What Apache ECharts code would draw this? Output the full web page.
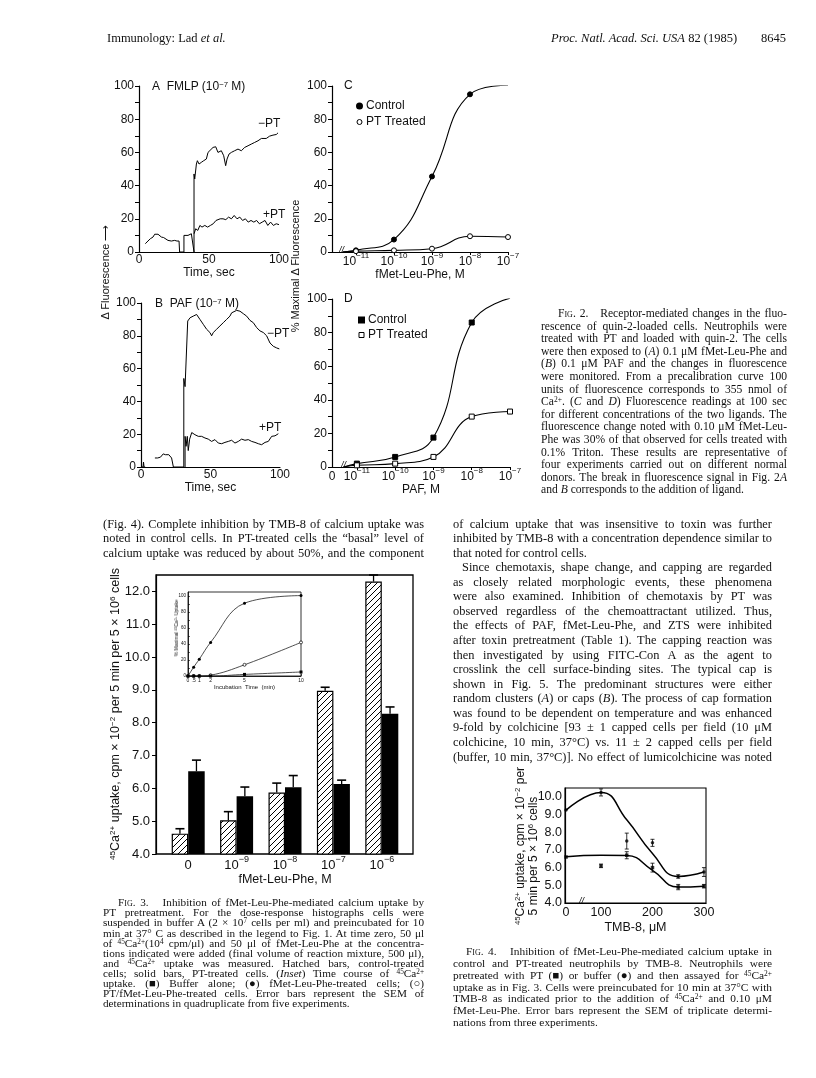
<!DOCTYPE html>
<html>
<head>
<meta charset="utf-8">
<script src="https://cdn.jsdelivr.net/npm/echarts@6/dist/echarts.min.js"></script>
<style>
html, body { margin: 0; padding: 0; background: #fff; }
#page { position: relative; width: 816px; height: 1078px; overflow: hidden; background: #fff; }
#chart { position: absolute; left: 0; top: 0; width: 816px; height: 1078px; }
.t { position: absolute; white-space: nowrap; font-family: "Liberation Serif", "Times New Roman", serif; color: #111; }
.s { position: absolute; white-space: nowrap; font-family: "Liberation Sans", Arial, sans-serif; color: #111; }
.rot { transform: translate(-50%, -50%) rotate(-90deg); }
sup { font-size: 0.65em; vertical-align: 0.45em; line-height: 0; }
.sc { font-variant: small-caps; }
</style>
</head>
<body>
<div id="page"><div id="chart"></div></div>
<script>
const TXT = "#111";
const SANS = "Liberation Sans, Arial, sans-serif";

// Fig. 2A / 2B traces: [time (sec), delta fluorescence]
const fmlpMinusPt = [[4.5,5],[6.4,6.6],[8.1,8],[10,9],[11.2,10.7],[12.4,9.7],[13.6,10.7],[14.8,9.7],[16,9],[17.6,8.7],[18.8,9.5],[20.7,7],[21.9,7.8],[23.1,6.6],[24.3,7.4],[25.5,7],[27.1,6.6],[28.6,6.6],[29,0],[32.1,0],[32.1,10],[33.3,10.7],[35,10],[36.2,11],[37.4,11],[38.6,12],[39.3,0],[39.3,47],[39.8,44],[41,53],[41.7,55],[42.9,53],[44.5,54],[46.2,55],[48.1,56],[49.3,60],[50.5,61],[52.9,63],[54.8,63.4],[56.4,60],[58.8,61],[60.5,58],[61.9,52],[62.9,56],[64.3,59],[66,60],[68.3,61],[70.7,62],[73.1,61],[75.5,63],[77.9,64],[80.2,65],[82.6,66],[85,67],[87.4,68.4],[88.6,69.4],[90.9,68.4],[93.3,69.8],[95.7,70.4],[98.1,70.8],[99.3,71.8]];
const fmlpPlusPt = [[39.3,11],[40.5,14],[42,13],[43.5,16],[45,15],[47,16],[49,15],[51,16],[53,17],[55,19],[56,18],[58,20],[60,20],[62,19.5],[64,21],[66,20],[68,22],[70,20],[72,21],[74,19],[76,20],[78,18],[80,19],[82,18],[84,19],[86,17],[88,18],[90,19],[92,16],[94,18],[96,16],[98,17],[100,16.5]];
const pafMinusPt = [[0,0],[1.5,0],[1.8,3],[2.2,0],[3,0],[5,null],[10,5.5],[12,5.5],[14,6],[15,7],[16,8],[17.5,7.5],[18.5,8],[20,7.5],[21,6.5],[22,5.5],[23.3,5.5],[23.3,0],[30.8,0],[30.8,54],[31.7,49],[33.6,89],[35.3,91],[37.6,92],[40,93],[41.2,92],[42.4,90],[44.8,87],[47.2,84],[49.6,82],[50.8,80],[52,82],[54.4,84],[56.8,86],[59.2,88],[61.6,90],[64,92],[65.2,94],[66.4,93],[68.8,95.5],[71.2,95],[73.6,93.5],[76,92],[78.4,89.4],[80.8,88],[83.2,85],[85.6,83],[88,82],[90.4,80],[92.8,75.6],[95.2,73.6],[97.6,72.6],[99.5,72]];
const pafPlusPt = [[31.7,0],[31.7,18.7],[32.4,12.6],[33.3,18.7],[34,10],[35,17],[36.5,21],[38.8,19.7],[41.2,18.7],[43.6,18.7],[46,17.7],[48.4,17],[50.8,15.6],[53.2,16.7],[55.6,14.6],[58,14.2],[60.4,15],[62.8,15.6],[65.2,16.3],[67.6,14.6],[70,15.6],[72.4,17],[74.8,16.3],[77.2,16.7],[79.6,15.6],[82,15],[84.4,14.2],[86.8,13.6],[89.2,15],[91.6,15.6],[94,18.7],[96.4,19],[98.8,20.3]];

// Fig. 2C / 2D dose-response, x = log10 concentration
const doseExponents = [-11, -10, -9, -8, -7];
const fmlpControl = [1, 7.5, 45.5, 95, 100.5];
const fmlpPtTreated = [0.5, 1, 2, 9.5, 9];
const pafControl = [2, 6, 17.5, 86, 100.5];
const pafPtTreated = [1, 2, 6, 30, 33];
const curveStart = -11.35; // curves leave the axis break at 0

// Fig. 3 bars
const fig3Doses = ["0", "-9", "-8", "-7", "-6"];
const controlUptake = [4.62, 5.03, 5.87, 8.97, 12.3];
const controlSem = [0.15, 0.26, 0.29, 0.11, 0.2];
const ptUptake = [6.52, 5.76, 6.03, 6.13, 8.27];
const ptSem = [0.34, 0.28, 0.36, 0.12, 0.21];
const fig3Ticks = [4, 5, 6, 7, 8, 9, 10, 11, 12];

// Fig. 3 inset
const insetTimes = [0, 0.5, 1, 2, 5, 10];
const insetFmlp = [0, 11, 21, 42, 91, 100.5];
const insetPtFmlp = [0, 0, 0, 1, 14, 42];
const insetBuffer = [0, 0, 0, 0, 2, 5];
const insetPctTicks = [0, 20, 40, 60, 80, 100];

// Fig. 4
const tmbDoses = [0, 100, 150, 200, 250, 300];
const bufferUptake = [9.25, 10.25, 7.5, 7.4, 5.5, 5.75];
const bufferSem = [0, 0.2, 0.45, 0.2, 0.1, 0.25];
const ptTmbUptake = [6.6, 6.1, 6.7, 6.0, 4.9, 4.95];
const ptTmbSem = [0, 0.1, 0.2, 0.25, 0.15, 0.1];
const bufferFit = [9.25, 10.25, 8.7, 6.8, 5.5, 5.75];
const ptFit = [6.62, 6.7, 6.68, 5.85, 4.9, 4.95];
const tmbTicks = [0, 100, 200, 300];
const fig4Ticks = [4, 5, 6, 7, 8, 9, 10];
const TMB_ZERO_POS = 32; // 0 sits just before the axis break
const tmbPos = (d) => (d === 0 ? TMB_ZERO_POS : d);

// ---------- helpers ----------
function richSup(size) {
  return {
    b: { fontSize: size, lineHeight: size + 4, verticalAlign: "bottom", fontFamily: SANS, color: TXT },
    s: { fontSize: Math.round(size * 0.68), lineHeight: 6, verticalAlign: "top", fontFamily: SANS, color: TXT },
  };
}
function powLabel(exp) {
  return "{b|10}{s|" + String(exp).replace("-", "\u2212") + "}";
}
const blackLine = { show: true, onZero: false, lineStyle: { color: "#000", width: 1.2 } };
function labelStyle(size, margin) {
  return { fontSize: size, fontFamily: SANS, color: TXT, margin };
}

function hatchPattern() {
  const c = document.createElement("canvas");
  c.width = 6;
  c.height = 6;
  const g = c.getContext("2d");
  g.fillStyle = "#fff";
  g.fillRect(0, 0, 6, 6);
  g.strokeStyle = "#000";
  g.lineWidth = 1;
  g.beginPath();
  g.moveTo(0, 6); g.lineTo(6, 0);
  g.moveTo(-1, 1); g.lineTo(1, -1);
  g.moveTo(5, 7); g.lineTo(7, 5);
  g.stroke();
  return c;
}

const BAR_W = 16.5;

function fig3ErrorSeries(values, sems, offset) {
  return {
    type: "custom",
    xAxisIndex: 5,
    yAxisIndex: 5,
    z: 4,
    silent: true,
    data: values.map((v, i) => [i, v, v + sems[i]]),
    renderItem: (params, api) => {
      const base = api.coord([api.value(0), api.value(1)]);
      const top = api.coord([api.value(0), api.value(2)]);
      const x = base[0] + offset;
      return {
        type: "group",
        children: [
          { type: "line", shape: { x1: x, y1: base[1], x2: x, y2: top[1] }, style: { stroke: "#000", lineWidth: 1.3 } },
          { type: "line", shape: { x1: x - 4.5, y1: top[1], x2: x + 4.5, y2: top[1] }, style: { stroke: "#000", lineWidth: 1.6 } },
        ],
      };
    },
  };
}

function fig4ErrorSeries(values, sems) {
  return {
    type: "custom",
    xAxisIndex: 7,
    yAxisIndex: 7,
    silent: true,
    data: tmbDoses.map((d, i) => [tmbPos(d), values[i] - sems[i], values[i] + sems[i]]).filter((r) => r[2] > r[1]),
    renderItem: (params, api) => {
      const lo = api.coord([api.value(0), api.value(1)]);
      const hi = api.coord([api.value(0), api.value(2)]);
      const x = lo[0];
      return {
        type: "group",
        children: [
          { type: "line", shape: { x1: x, y1: lo[1], x2: x, y2: hi[1] }, style: { stroke: "#000", lineWidth: 0.8 } },
          { type: "line", shape: { x1: x - 2, y1: lo[1], x2: x + 2, y2: lo[1] }, style: { stroke: "#000", lineWidth: 0.8 } },
          { type: "line", shape: { x1: x - 2, y1: hi[1], x2: x + 2, y2: hi[1] }, style: { stroke: "#000", lineWidth: 0.8 } },
        ],
      };
    },
  };
}

function traceSeries(data, idx) {
  return {
    type: "line", xAxisIndex: idx, yAxisIndex: idx, data, symbol: "none",
    lineStyle: { color: "#000", width: 1 }, connectNulls: false, silent: true,
  };
}

function doseSeries(name, values, idx, symbol, filled) {
  return {
    type: "line", name, xAxisIndex: idx, yAxisIndex: idx, smooth: 0.45,
    data: [{ value: [curveStart, 0], symbol: "none" }].concat(doseExponents.map((e, i) => [e, values[i]])),
    symbol, symbolSize: 5,
    lineStyle: { color: "#000", width: 1.1 },
    itemStyle: { color: filled ? "#000" : "#fff", borderColor: "#000", borderWidth: 1 },
    silent: true,
  };
}

function timeAxes(idx) {
  return {
    x: {
      gridIndex: idx, type: "value", min: 0, max: 100, interval: 50,
      axisLine: blackLine, axisTick: { show: false }, splitLine: { show: false },
      axisLabel: labelStyle(12, 2),
      name: "Time, sec", nameLocation: "middle", nameGap: 15,
      nameTextStyle: { fontSize: 12, fontFamily: SANS, color: TXT },
    },
    y: {
      gridIndex: idx, type: "value", min: 0, max: 100, interval: 10,
      axisLine: blackLine, axisTick: { show: true, length: 4, lineStyle: { color: "#000" } }, splitLine: { show: false },
      axisLabel: Object.assign(labelStyle(12, 5), { formatter: (v) => (v % 20 === 0 ? v : "") }),
    },
  };
}

function doseAxes(idx, min, withZero) {
  const labelVals = withZero ? [min].concat(doseExponents) : doseExponents;
  return {
    x: {
      gridIndex: idx, type: "value", min, max: -7,
      axisLine: blackLine,
      axisTick: { show: true, length: 3, customValues: doseExponents, lineStyle: { color: "#000" } },
      splitLine: { show: false },
      axisLabel: {
        customValues: labelVals, margin: 0, rich: richSup(12),
        formatter: (v) => (v < -11.2 ? "{b|0}" : powLabel(Math.round(v))),
      },
      nameTextStyle: { fontSize: 12, fontFamily: SANS, color: TXT },
      nameLocation: "middle", nameGap: 15,
    },
    y: {
      gridIndex: idx, type: "value", min: 0, max: 100, interval: 10,
      axisLine: blackLine, axisTick: { show: true, length: 4, lineStyle: { color: "#000" } }, splitLine: { show: false },
      axisLabel: Object.assign(labelStyle(12, 5), { formatter: (v) => (v % 20 === 0 ? v : "") }),
    },
  };
}

const axA = timeAxes(0);
const axB = timeAxes(1);
const axC = doseAxes(2, -11.63, false);
axC.x.name = "fMet-Leu-Phe, M";
const axD = doseAxes(3, -11.65, true);
axD.x.name = "PAF, M";

const option = {
  animation: false,
  backgroundColor: "#fff",
  textStyle: { fontFamily: SANS, color: TXT },
  grid: [
    { left: 139, top: 86, width: 140, height: 166 },
    { left: 141, top: 303, width: 139, height: 164 },
    { left: 332, top: 86, width: 176, height: 166 },
    { left: 332, top: 299, width: 178, height: 168 },
    { left: 156, top: 575, width: 257, height: 279, show: true, borderColor: "#000", borderWidth: 1.3, backgroundColor: "transparent" },
    { left: 164, top: 575, width: 242, height: 279 },
    { left: 188, top: 592, width: 113, height: 84, show: true, borderColor: "#000", borderWidth: 0.8, backgroundColor: "#fff" },
    { left: 565, top: 788, width: 141, height: 115, show: true, borderColor: "#000", borderWidth: 1.1, backgroundColor: "transparent" },
  ],
  legend: [
    {
      left: 351, top: 95, orient: "vertical", itemWidth: 5, itemHeight: 5, itemGap: 4, selectedMode: false,
      textStyle: { fontSize: 12, fontFamily: SANS, color: TXT, padding: [0, 0, 0, -1] },
      data: [
        { name: "Control", icon: "circle", itemStyle: { color: "#000", borderColor: "#000" } },
        { name: "PT Treated", icon: "circle", itemStyle: { color: "#fff", borderColor: "#000", borderWidth: 1 } },
      ],
    },
    {
      left: 353, top: 309, orient: "vertical", itemWidth: 5, itemHeight: 5, itemGap: 3, selectedMode: false,
      textStyle: { fontSize: 12, fontFamily: SANS, color: TXT, padding: [0, 0, 0, -1] },
      data: [
        { name: "Control", icon: "rect", itemStyle: { color: "#000", borderColor: "#000" } },
        { name: "PT Treated", icon: "rect", itemStyle: { color: "#fff", borderColor: "#000", borderWidth: 1 } },
      ],
    },
  ],
  xAxis: [
    axA.x, axB.x, axC.x, axD.x,
    { gridIndex: 4, type: "value", show: false, min: 0, max: 1 },
    {
      gridIndex: 5, type: "category", data: fig3Doses,
      axisLine: { show: false }, axisTick: { show: false },
      axisLabel: {
        interval: 0, margin: 1, rich: richSup(13),
        formatter: (v) => (v === "0" ? "{b|0}" : powLabel(v)),
      },
      name: "fMet-Leu-Phe, M", nameLocation: "middle", nameGap: 17,
      nameTextStyle: { fontSize: 12.5, fontFamily: SANS, color: TXT },
    },
    {
      gridIndex: 6, type: "value", min: 0, max: 10,
      axisLine: { show: true, lineStyle: { color: "#000", width: 0.8 } },
      axisTick: { show: true, inside: true, length: 2, customValues: insetTimes, lineStyle: { color: "#000", width: 0.6 } },
      splitLine: { show: false },
      axisLabel: {
        customValues: insetTimes, fontSize: 5, margin: 2, fontFamily: SANS, color: TXT,
        formatter: (v) => (v === 0.5 ? ".5" : String(v)),
      },
      name: "Incubation  Time  (min)", nameLocation: "middle", nameGap: 8,
      nameTextStyle: { fontSize: 6, fontFamily: SANS, color: TXT },
    },
    {
      gridIndex: 7, type: "value", min: 30, max: 304,
      axisLine: blackLine,
      axisTick: { show: false },
      splitLine: { show: false },
      axisLabel: {
        customValues: tmbTicks.map(tmbPos), fontSize: 12.5, margin: 3, fontFamily: SANS, color: TXT,
        formatter: (v) => (v === TMB_ZERO_POS ? "0" : String(v)),
      },
      name: "TMB-8, \u03bcM", nameLocation: "middle", nameGap: 18,
      nameTextStyle: { fontSize: 12.5, fontFamily: SANS, color: TXT },
    },
  ],
  yAxis: [
    axA.y, axB.y, axC.y, axD.y,
    {
      gridIndex: 4, type: "value", min: 4, max: 12.5,
      axisLine: blackLine,
      axisTick: { show: true, length: 4, customValues: fig3Ticks, lineStyle: { color: "#000" } },
      splitLine: { show: false },
      axisLabel: Object.assign(labelStyle(13, 6), { customValues: fig3Ticks, formatter: (v) => v.toFixed(1) }),
    },
    { gridIndex: 5, type: "value", min: 4, max: 12.5, show: false },
    {
      gridIndex: 6, type: "value", min: 0, max: 105,
      axisLine: { show: true, lineStyle: { color: "#000", width: 0.8 } },
      axisTick: { show: true, inside: true, length: 2, customValues: [0, 10, 20, 30, 40, 50, 60, 70, 80, 90, 100], lineStyle: { color: "#000", width: 0.6 } },
      splitLine: { show: false },
      axisLabel: { customValues: insetPctTicks, fontSize: 4.5, margin: 2, fontFamily: SANS, color: TXT },
    },
    {
      gridIndex: 7, type: "value", min: 4, max: 10.5,
      axisLine: blackLine,
      axisTick: { show: false },
      splitLine: { show: false },
      axisLabel: Object.assign(labelStyle(12.5, 3), { customValues: fig4Ticks, formatter: (v) => v.toFixed(1) }),
    },
  ],
  graphic: [
    { type: "text", left: 339, top: 246, style: { text: "//", font: "italic 9px Liberation Sans", fill: "#000" } },
    { type: "text", left: 341, top: 461, style: { text: "//", font: "italic 9px Liberation Sans", fill: "#000" } },
    { type: "text", left: 579, top: 897, style: { text: "//", font: "italic 9px Liberation Sans", fill: "#000" } },
  ],
  series: [
    traceSeries(fmlpMinusPt, 0),
    traceSeries(fmlpPlusPt, 0),
    traceSeries(pafMinusPt, 1),
    traceSeries(pafPlusPt, 1),
    doseSeries("Control", fmlpControl, 2, "circle", true),
    doseSeries("PT Treated", fmlpPtTreated, 2, "circle", false),
    doseSeries("Control", pafControl, 3, "rect", true),
    doseSeries("PT Treated", pafPtTreated, 3, "rect", false),
    {
      type: "bar", xAxisIndex: 5, yAxisIndex: 5, data: controlUptake, barWidth: BAR_W, barGap: "0%",
      itemStyle: { color: { image: hatchPattern(), repeat: "repeat" }, borderColor: "#000", borderWidth: 1.2 },
      silent: true,
    },
    {
      type: "bar", xAxisIndex: 5, yAxisIndex: 5, data: ptUptake, barWidth: BAR_W, barGap: "0%",
      itemStyle: { color: "#000" }, silent: true,
    },
    fig3ErrorSeries(controlUptake, controlSem, -BAR_W / 2),
    fig3ErrorSeries(ptUptake, ptSem, BAR_W / 2),
    {
      type: "line", xAxisIndex: 6, yAxisIndex: 6, smooth: 0.4, z: 5,
      data: insetTimes.map((t, i) => [t, insetFmlp[i]]),
      symbol: "circle", symbolSize: 3, lineStyle: { color: "#222", width: 0.8 }, itemStyle: { color: "#000" }, silent: true,
    },
    {
      type: "line", xAxisIndex: 6, yAxisIndex: 6, smooth: 0.4, z: 5,
      data: insetTimes.map((t, i) => [t, insetPtFmlp[i]]),
      symbol: "circle", symbolSize: 3, lineStyle: { color: "#222", width: 0.8 },
      itemStyle: { color: "#fff", borderColor: "#000", borderWidth: 0.7 }, silent: true,
    },
    {
      type: "line", xAxisIndex: 6, yAxisIndex: 6, smooth: 0.4, z: 5,
      data: insetTimes.map((t, i) => [t, insetBuffer[i]]),
      symbol: "rect", symbolSize: 3, lineStyle: { color: "#222", width: 0.8 }, itemStyle: { color: "#000" }, silent: true,
    },
    {
      type: "line", xAxisIndex: 7, yAxisIndex: 7, smooth: 0.5, symbol: "none",
      data: tmbDoses.map((d, i) => [tmbPos(d), bufferFit[i]]),
      lineStyle: { color: "#000", width: 1.5 }, silent: true,
    },
    {
      type: "line", xAxisIndex: 7, yAxisIndex: 7, smooth: 0.5, symbol: "none",
      data: tmbDoses.map((d, i) => [tmbPos(d), ptFit[i]]),
      lineStyle: { color: "#000", width: 1.5 }, silent: true,
    },
    {
      type: "scatter", xAxisIndex: 7, yAxisIndex: 7, symbol: "circle", symbolSize: 3.5,
      data: tmbDoses.map((d, i) => [tmbPos(d), bufferUptake[i]]), itemStyle: { color: "#000" }, silent: true,
    },
    {
      type: "scatter", xAxisIndex: 7, yAxisIndex: 7, symbol: "rect", symbolSize: 3.5,
      data: tmbDoses.map((d, i) => [tmbPos(d), ptTmbUptake[i]]), itemStyle: { color: "#000" }, silent: true,
    },
    fig4ErrorSeries(bufferUptake, bufferSem),
    fig4ErrorSeries(ptTmbUptake, ptTmbSem),
  ],
};

const chart = echarts.init(document.getElementById("chart"), null, { renderer: "canvas" });
chart.setOption(option);

// ---------- page text ----------
const page = document.getElementById("page");

function addText(html, x, y, size, cls) {
  const d = document.createElement("div");
  d.className = cls || "t";
  d.style.left = x + "px";
  d.style.top = y - size * 0.6 + "px";
  d.style.fontSize = size + "px";
  d.style.lineHeight = size * 1.2 + "px";
  d.innerHTML = html;
  page.appendChild(d);
  return d;
}

function addRot(html, cx, cy, size) {
  const d = document.createElement("div");
  d.className = "s rot";
  d.style.left = cx + "px";
  d.style.top = cy + "px";
  d.style.fontSize = size + "px";
  d.style.lineHeight = size * 1.2 + "px";
  d.innerHTML = html;
  page.appendChild(d);
}

function addLines(lines, opts) {
  lines.forEach((ln, i) => {
    const ind = (opts.indents && opts.indents[i]) || 0;
    const d = addText(ln, opts.x + ind, opts.y + i * opts.lh, opts.size, "t");
    const last = opts.ragged && opts.ragged.includes(i);
    if (last) return;
    const target = opts.width - ind;
    const natural = d.getBoundingClientRect().width;
    const spaces = (d.textContent.match(/[ \u00a0]/g) || []).length;
    if (spaces > 0) {
      d.style.wordSpacing = (target - natural) / spaces + "px";
    }
  });
}

// header
addText("Immunology: Lad <i>et al.</i>", 107, 38, 12.5);
addText("<i>Proc. Natl. Acad. Sci. USA</i> 82 (1985)", 551, 38, 12.5);
addText("8645", 761, 38, 12.5);

// panel labels
addText("A&nbsp; FMLP (10<sup>\u22127</sup> M)", 152, 86, 12, "s");
addText("B&nbsp; PAF (10<sup>\u22127</sup> M)", 155, 303, 12, "s");
addText("C", 344, 85, 12, "s");
addText("D", 344, 298, 12, "s");
addText("\u2212PT", 258, 123, 12, "s");
addText("+PT", 263, 214, 12, "s");
addText("\u2212PT", 267, 333, 12, "s");
addText("+PT", 259, 427, 12, "s");

// rotated axis titles
addRot("\u0394 Fluorescence \u27f6", 106, 272, 11);
addRot("% Maximal \u0394 Fluorescence", 296, 266, 11);
addRot("<sup>45</sup>Ca<sup>2+</sup> uptake, cpm \u00d7 10<sup>\u22122</sup> per 5 min per 5 \u00d7 10<sup>6</sup> cells", 115, 714, 12.5);
addRot("<sup>45</sup>Ca<sup>2+</sup> uptake, cpm \u00d7 10<sup>\u22122</sup> per", 520, 846, 12);
addRot("5 min per 5 \u00d7 10<sup>6</sup> cells", 533, 856, 12);
addRot("% Maximal <sup>45</sup>Ca<sup>2+</sup> Uptake", 176, 628, 5);

const fig2Caption = [
  '<span class="sc">Fig.</span> 2.&nbsp;&nbsp; Receptor-mediated changes in the fluo-',
  "rescence of quin-2-loaded cells. Neutrophils were",
  "treated with PT and loaded with quin-2. The cells",
  "were then exposed to (<i>A</i>) 0.1 \u03bcM fMet-Leu-Phe and",
  "(<i>B</i>) 0.1 \u03bcM PAF and the changes in fluorescence",
  "were monitored. From a precalibration curve 100",
  "units of fluorescence corresponds to 355 nmol of",
  "Ca<sup>2+</sup>. (<i>C</i> and <i>D</i>) Fluorescence readings at 100 sec",
  "for different concentrations of the two ligands. The",
  "fluorescence change noted with 0.10 \u03bcM fMet-Leu-",
  "Phe was 30% of that observed for cells treated with",
  "0.1% Triton. These results are representative of",
  "four experiments carried out on different normal",
  "donors. The break in fluorescence signal in Fig. 2<i>A</i>",
  "and <i>B</i> corresponds to the addition of ligand.",
];
addLines(fig2Caption, { x: 541, y: 314, lh: 12.6, size: 11.6, width: 246, indents: [17], ragged: [14] });

const leftBody = [
  "(Fig. 4). Complete inhibition by TMB-8 of calcium uptake was",
  "noted in control cells. In PT-treated cells the \u201cbasal\u201d level of",
  "calcium uptake was reduced by about 50%, and the component",
];
addLines(leftBody, { x: 103, y: 524, lh: 14.5, size: 12.4, width: 321 });

const rightBody = [
  "of calcium uptake that was insensitive to toxin was further",
  "inhibited by TMB-8 with a concentration dependence similar to",
  "that noted for control cells.",
  "Since chemotaxis, shape change, and capping are regarded",
  "as closely related morphologic events, these phenomena",
  "were also examined. Inhibition of chemotaxis by PT was",
  "observed regardless of the chemoattractant utilized. Thus,",
  "the effects of PAF, fMet-Leu-Phe, and ZTS were inhibited",
  "after toxin pretreatment (Table 1). The capping reaction was",
  "then investigated by using FITC-Con A as the agent to",
  "crosslink the cell surface-binding sites. The typical cap is",
  "shown in Fig. 5. The predominant structures were either",
  "random clusters (<i>A</i>) or caps (<i>B</i>). The process of cap formation",
  "was found to be dependent on temperature and was enhanced",
  "9-fold by colchicine [93 \u00b1 1 capped cells per field (10 \u03bcM",
  "colchicine, 10 min, 37\u00b0C) vs. 11 \u00b1 2 capped cells per field",
  "(buffer, 10 min, 37\u00b0C)]. No effect of lumicolchicine was noted",
];
addLines(rightBody, { x: 453, y: 524, lh: 14.56, size: 12.4, width: 319, indents: [0, 0, 0, 9], ragged: [2] });

const fig3Caption = [
  '<span class="sc">Fig.</span> 3.&nbsp;&nbsp; Inhibition of fMet-Leu-Phe-mediated calcium uptake by',
  "PT pretreatment. For the dose-response histographs cells were",
  "suspended in buffer A (2 \u00d7 10<sup>7</sup> cells per ml) and preincubated for 10",
  "min at 37\u00b0 C as described in the legend to Fig. 1. At time zero, 50 \u03bcl",
  "of <sup>45</sup>Ca<sup>2+</sup>(10<sup>4</sup> cpm/\u03bcl) and 50 \u03bcl of fMet-Leu-Phe at the concentra-",
  "tions indicated were added (final volume of reaction mixture, 500 \u03bcl),",
  "and <sup>45</sup>Ca<sup>2+</sup> uptake was measured. Hatched bars, control-treated",
  "cells; solid bars, PT-treated cells. (<i>Inset</i>) Time course of <sup>45</sup>Ca<sup>2+</sup>",
  "uptake. (\u25a0) Buffer alone; (\u25cf) fMet-Leu-Phe-treated cells; (\u25cb)",
  "PT/fMet-Leu-Phe-treated cells. Error bars represent the SEM of",
  "determinations in quadruplicate from five experiments.",
];
addLines(fig3Caption, { x: 103, y: 903, lh: 10.1, size: 11.2, width: 321, indents: [15], ragged: [10] });

const fig4Caption = [
  '<span class="sc">Fig.</span> 4.&nbsp;&nbsp; Inhibition of fMet-Leu-Phe-mediated calcium uptake in',
  "control and PT-treated neutrophils by TMB-8. Neutrophils were",
  "pretreated with PT (\u25a0) or buffer (\u25cf) and then assayed for <sup>45</sup>Ca<sup>2+</sup>",
  "uptake as in Fig. 3. Cells were preincubated for 10 min at 37\u00b0C with",
  "TMB-8 as indicated prior to the addition of <sup>45</sup>Ca<sup>2+</sup> and 0.10 \u03bcM",
  "fMet-Leu-Phe. Error bars represent the SEM of triplicate determi-",
  "nations from three experiments.",
];
addLines(fig4Caption, { x: 453, y: 952, lh: 11.8, size: 11.4, width: 319, indents: [13], ragged: [6] });
</script>
</body>
</html>
